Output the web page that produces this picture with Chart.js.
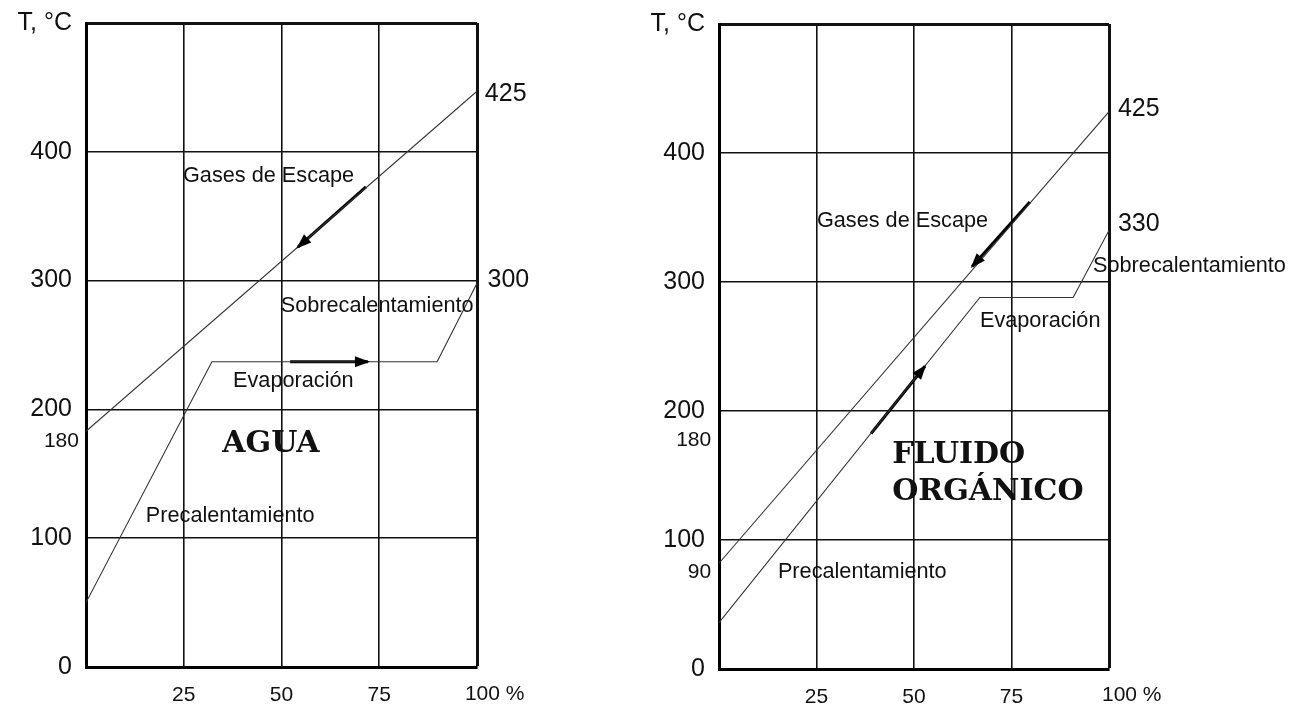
<!DOCTYPE html>
<html><head><meta charset="utf-8">
<script src="https://cdn.jsdelivr.net/npm/chart.js@4.4.0/dist/chart.umd.min.js"></script>
<style>
html,body{margin:0;padding:0;background:#fff;width:1307px;height:706px;overflow:hidden}
canvas{position:absolute;top:0}
#c1{left:0}
#c2{left:633px}
</style></head>
<body>
<canvas id="c1" width="633" height="706"></canvas>
<canvas id="c2" width="674" height="706"></canvas>
<script>
// ---- tick labels ----
const yTickValues = [0, 100, 200, 300, 400, 500];
const yTickLabels = ['0', '100', '200', '300', '400', 'T, °C'];
const xTickValues = [0, 25, 50, 75, 100];
const xTickLabels = ['', '25', '50', '75', ''];

// ---- AGUA chart ----
const aguaGasX = [0, 100];
const aguaGasY = [183, 447];
const aguaWaterX = [0, 32.2, 89.8, 100];
const aguaWaterY = [50, 237, 237, 298];
const aguaArrowGasX = [71.6, 54.2];
const aguaArrowGasY = [372.8, 326];
const aguaArrowEvapX = [52.2, 72.1];
const aguaArrowEvapY = [237, 237];
const aguaTexts = ['425', '300', '180', 'Gases de Escape', 'Sobrecalentamiento', 'Evaporación', 'Precalentamiento', 'AGUA', '100 %'];

// ---- FLUIDO ORGÁNICO chart ----
const fluidoGasX = [0, 100];
const fluidoGasY = [82, 432];
const fluidoLiqX = [0, 66.9, 90.8, 100];
const fluidoLiqY = [36, 288, 288, 340];
const fluidoArrowGasX = [79.7, 64.9];
const fluidoArrowGasY = [362, 312];
const fluidoArrowLiqX = [39, 52.8];
const fluidoArrowLiqY = [182.6, 234.7];
const fluidoTexts = ['425', '330', '180', '90', 'Gases de Escape', 'Sobrecalentamiento', 'Evaporación', 'Precalentamiento', 'FLUIDO', 'ORGÁNICO', '100 %'];

const SANS = '"Liberation Sans", Arial, sans-serif';
const SERIF = '"DejaVu Serif", serif';
const F_NUM = 'normal 25px ' + SANS;
const F_NUM_S = 'normal 21px ' + SANS;
const F_LBL = 'normal 21.7px ' + SANS;
const F_BIG = 'bold 30px ' + SERIF;

function pts(xs, ys) { return xs.map((x, i) => ({x: x, y: ys[i]})); }

const annotPlugin = {
  id: 'annot',
  afterDatasetsDraw(chart, args, opts) {
    const ctx = chart.ctx;
    const sx = chart.scales.x, sy = chart.scales.y;
    chart.data.datasets.forEach((ds, i) => {
      if (!ds.arrow) return;
      const p = chart.getDatasetMeta(i).data;
      const a = p[p.length - 2], b = p[p.length - 1];
      const ang = Math.atan2(b.y - a.y, b.x - a.x);
      const L = 13, W = 5.5;
      const bx = b.x - L * Math.cos(ang), by = b.y - L * Math.sin(ang);
      ctx.save();
      ctx.fillStyle = ds.borderColor;
      ctx.beginPath();
      ctx.moveTo(b.x + 2 * Math.cos(ang), b.y + 2 * Math.sin(ang));
      ctx.lineTo(bx + W * Math.sin(ang), by - W * Math.cos(ang));
      ctx.lineTo(bx - W * Math.sin(ang), by + W * Math.cos(ang));
      ctx.closePath();
      ctx.fill();
      ctx.restore();
    });
    (opts.labels || []).forEach(l => {
      ctx.save();
      ctx.font = l.font;
      ctx.fillStyle = '#111';
      ctx.textAlign = l.align || 'left';
      ctx.textBaseline = 'middle';
      ctx.fillText(l.text, sx.getPixelForValue(l.x), sy.getPixelForValue(l.y));
      ctx.restore();
    });
  }
};

function makeChart(id, datasets, layoutPad, xAxisH, labels) {
  return new Chart(document.getElementById(id), {
    type: 'scatter',
    data: { datasets: datasets },
    options: {
      responsive: false,
      animation: false,
      events: [],
      layout: { padding: layoutPad },
      plugins: { legend: { display: false }, tooltip: { enabled: false }, annot: { labels: labels } },
      elements: { point: { radius: 0 } },
      scales: {
        x: {
          type: 'linear', min: 0, max: 100,
          afterFit: s => { s.height = xAxisH; },
          afterBuildTicks: s => { s.ticks = xTickValues.map(v => ({value: v})); },
          border: { display: true, color: '#000', width: 3 },
          grid: { color: '#111', drawTicks: false, lineWidth: c => (c.tick && c.tick.value === 100) ? 3 : 1.6 },
          ticks: { autoSkip: false, maxRotation: 0, padding: 16, color: '#111', font: { family: SANS, size: 21 },
                   callback: (v, i) => xTickLabels[i] }
        },
        y: {
          type: 'linear', min: 0, max: 500,
          afterFit: s => { s.width = 86; },
          afterBuildTicks: s => { s.ticks = yTickValues.map(v => ({value: v})); },
          border: { display: true, color: '#000', width: 3 },
          grid: { color: '#111', drawTicks: false, lineWidth: c => (c.tick && c.tick.value === 500) ? 3 : 1.6 },
          ticks: { autoSkip: false, padding: 14, color: '#111', font: { family: SANS, size: 25, lineHeight: 0.5 },
                   callback: (v, i) => yTickLabels[i] }
        }
      }
    },
    plugins: [annotPlugin]
  });
}

function lineDs(xs, ys, w, color, arrow) {
  return { data: pts(xs, ys), showLine: true, borderColor: color, borderWidth: w, pointRadius: 0, fill: false, arrow: !!arrow, borderCapStyle: 'butt' };
}

makeChart('c1', [
  lineDs(aguaGasX, aguaGasY, 1.1, '#333'),
  lineDs(aguaWaterX, aguaWaterY, 1.1, '#333'),
  lineDs(aguaArrowGasX, aguaArrowGasY, 3, '#000', true),
  lineDs(aguaArrowEvapX, aguaArrowEvapY, 3, '#000', true)
], { top: 23, right: 156, bottom: 0, left: 0 }, 39, [
  { text: aguaTexts[0], x: 102.0, y: 445, font: F_NUM },
  { text: aguaTexts[1], x: 102.7, y: 300, font: F_NUM },
  { text: aguaTexts[2], x: -1.8, y: 175, font: F_NUM_S, align: 'right' },
  { text: aguaTexts[3], x: 24.8, y: 381, font: F_LBL },
  { text: aguaTexts[4], x: 49.8, y: 280, font: F_LBL },
  { text: aguaTexts[5], x: 37.6, y: 222, font: F_LBL },
  { text: aguaTexts[6], x: 15.3, y: 117, font: F_LBL },
  { text: aguaTexts[7], x: 47.3, y: 173, font: F_BIG, align: 'center' },
  { text: aguaTexts[8], x: 96.9, y: -21, font: F_NUM_S }
]);

makeChart('c2', [
  lineDs(fluidoGasX, fluidoGasY, 1.1, '#333'),
  lineDs(fluidoLiqX, fluidoLiqY, 1.1, '#333'),
  lineDs(fluidoArrowGasX, fluidoArrowGasY, 3, '#000', true),
  lineDs(fluidoArrowLiqX, fluidoArrowLiqY, 3, '#000', true)
], { top: 24, right: 198, bottom: 0, left: 0 }, 37, [
  { text: fluidoTexts[0], x: 102.3, y: 434, font: F_NUM },
  { text: fluidoTexts[1], x: 102.3, y: 345, font: F_NUM },
  { text: fluidoTexts[2], x: -2.0, y: 177, font: F_NUM_S, align: 'right' },
  { text: fluidoTexts[3], x: -2.0, y: 75, font: F_NUM_S, align: 'right' },
  { text: fluidoTexts[4], x: 25.1, y: 347, font: F_LBL },
  { text: fluidoTexts[5], x: 95.9, y: 312, font: F_LBL },
  { text: fluidoTexts[6], x: 66.9, y: 270, font: F_LBL },
  { text: fluidoTexts[7], x: 15.1, y: 75, font: F_LBL },
  { text: fluidoTexts[8], x: 44.4, y: 165.5, font: F_BIG },
  { text: fluidoTexts[9], x: 44.4, y: 137, font: F_BIG },
  { text: fluidoTexts[10], x: 98.2, y: -20, font: F_NUM_S }
]);
</script>
</body></html>
